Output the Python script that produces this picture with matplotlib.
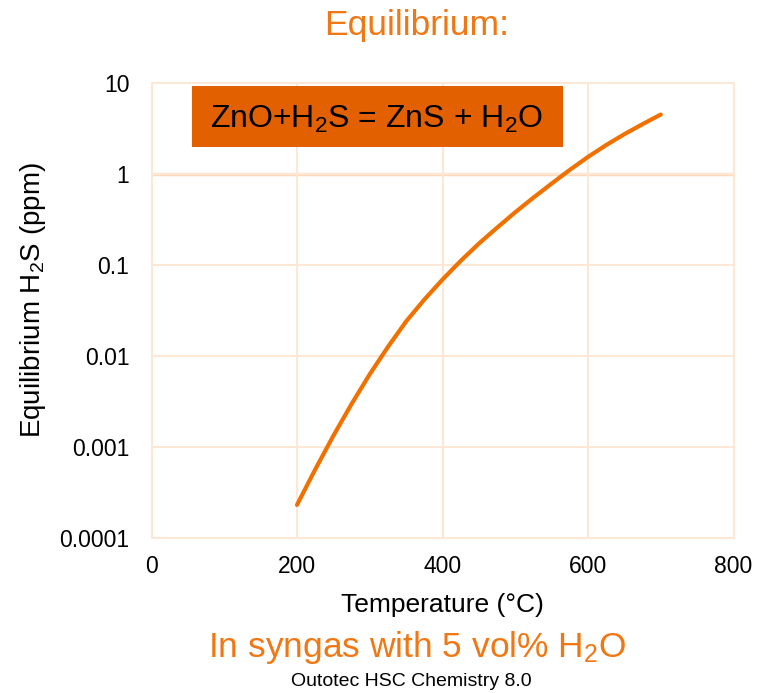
import matplotlib.pyplot as plt
import matplotlib.ticker as mticker
from matplotlib.patches import Rectangle

# equilibrium H2S over ZnO
temperature = [200, 225, 250, 275, 300, 325, 350, 375, 400, 425, 450,
               475, 500, 525, 550, 575, 600, 625, 650, 675, 700]
h2s_ppm = [0.000231, 0.000566, 0.00133, 0.00297, 0.00631, 0.0126, 0.024,
           0.0417, 0.0692, 0.111, 0.172, 0.257, 0.380, 0.550, 0.785, 1.11,
           1.54, 2.08, 2.74, 3.53, 4.50]

y_ticks = [0.0001, 0.001, 0.01, 0.1, 1, 10]
y_tick_labels = ["0.0001", "0.001", "0.01", "0.1", "1", "10"]
x_ticks = [0, 200, 400, 600, 800]

orange = "#F07000"
box_orange = "#E26000"
text_orange = "#F07814"
grid_col = "#FDE8D6"

plt.rcParams["font.family"] = ["Liberation Sans", "DejaVu Sans"]
plt.rcParams["mathtext.fontset"] = "custom"
plt.rcParams["mathtext.rm"] = "Liberation Sans"

W, H = 759, 693
fig = plt.figure(figsize=(W / 100, H / 100), dpi=100)
ax = fig.add_axes([151.5 / W, 1 - 538 / H, 582 / W, 455 / H])

ax.plot(temperature, h2s_ppm, color=orange, lw=3, solid_capstyle="round")

ax.set_yscale("log")
ax.set_ylim(0.0001, 10)
ax.set_xlim(0, 800)
ax.set_xticks(x_ticks)
ax.set_yticks(y_ticks)
ax.set_yticklabels(y_tick_labels)
ax.yaxis.set_minor_locator(mticker.NullLocator())
ax.tick_params(axis="both", length=0, labelsize=16.5)
ax.tick_params(axis="x", pad=12)
ax.tick_params(axis="y", pad=16)

ax.grid(True, color=grid_col, lw=1.5)
ax.axhline(1, color="#FCD8BC", lw=2.5, zorder=1)
for s in ax.spines.values():
    s.set_color(grid_col)
    s.set_linewidth(1.5)

ax.set_xlabel("Temperature (°C)", fontsize=19, labelpad=11)
ax.set_ylabel(r"Equilibrium H$\mathregular{_2}$S (ppm)", fontsize=20)
ax.yaxis.set_label_coords(-0.178, 0.522)

fig.text(417 / W, 1 - 26 / H, "Equilibrium:", color=text_orange,
         fontsize=25.5, ha="center", va="center")

# reaction label box
fig.patches.append(Rectangle((192 / W, 1 - 147 / H), 371 / W, 61 / H,
                             transform=fig.transFigure, fc=box_orange, ec="none"))
fig.text(376 / W, 1 - 119 / H, r"ZnO+H$\mathregular{_2}$S = ZnS + H$\mathregular{_2}$O",
         fontsize=23, ha="center", va="center")

fig.text(417 / W, 1 - 648 / H, r"In syngas with 5 vol% H$\mathregular{_2}$O",
         color=text_orange, fontsize=25.5, ha="center", va="center")
fig.text(411 / W, 1 - 681 / H, "Outotec HSC Chemistry 8.0",
         fontsize=14, ha="center", va="center")

fig.savefig("out.png", dpi=100)
